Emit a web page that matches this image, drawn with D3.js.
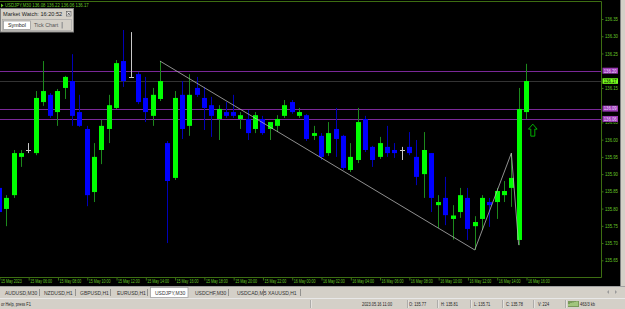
<!DOCTYPE html>
<html>
<head>
<meta charset="utf-8">
<script src="https://cdn.jsdelivr.net/npm/d3@7"></script>
<style>
  body { margin: 0; background: #000; overflow: hidden; }
  svg { display: block; }
</style>
</head>
<body>
<div id="chart"></div>
<script>
// USDJPY M30 bars, first bar 15 May 2023 04:00, one bar per 30 minutes
var symbol = "USDJPY,M30";
var firstBar = "2023-05-15 04:00";
var opens = [135.860, 135.799, 135.839, 135.950, 135.970, 135.961, 136.109, 136.130, 136.080, 136.150,
  136.170, 136.080, 136.031, 135.848, 135.970, 136.031, 136.092, 136.228, 136.182, 136.190,
  136.121, 136.069, 136.118, 135.990, 135.889, 136.130, 136.040, 136.150, 136.121, 136.100,
  136.060, 136.080, 136.080, 136.060, 136.060, 136.031, 136.060, 136.031, 136.040, 136.069,
  136.109, 136.069, 136.071, 136.011, 136.011, 135.961, 136.031, 136.011, 135.912, 135.941,
  136.060, 135.979, 135.950, 135.979, 135.970, 135.970, 135.979, 135.950, 135.900, 135.961,
  135.810, 135.831, 135.770, 135.790, 135.831, 135.749, 135.770, 135.819, 135.819, 135.839,
  135.860, 135.709, 136.080];
var highs = [135.866, 135.839, 135.970, 135.970, 135.990, 136.141, 136.228, 136.135, 136.147, 136.185,
  136.248, 136.130, 136.040, 135.990, 136.057, 136.130, 136.231, 136.318, 136.312, 136.196,
  136.182, 136.150, 136.228, 135.996, 136.141, 136.170, 136.190, 136.182, 136.153, 136.124,
  136.100, 136.109, 136.130, 136.080, 136.086, 136.080, 136.069, 136.051, 136.071, 136.115,
  136.115, 136.092, 136.074, 136.040, 136.019, 136.051, 136.092, 136.014, 135.990, 136.092,
  136.069, 135.982, 136.008, 136.040, 135.990, 135.979, 136.022, 135.999, 136.022, 135.961,
  135.839, 135.892, 135.810, 135.860, 135.860, 135.778, 135.839, 135.831, 135.860, 135.880,
  135.961, 136.150, 136.220];
var lows = [135.784, 135.749, 135.831, 135.921, 135.961, 135.955, 136.098, 136.063, 136.040, 136.118,
  136.040, 136.037, 135.807, 135.819, 135.929, 135.990, 136.089, 136.153, 136.182, 136.103,
  136.051, 136.040, 136.112, 135.700, 135.883, 136.002, 136.011, 136.124, 136.028, 136.008,
  135.999, 136.063, 136.063, 136.031, 135.999, 136.019, 136.014, 135.999, 136.022, 136.063,
  136.075, 136.063, 135.996, 135.999, 135.941, 135.953, 135.950, 135.912, 135.906, 135.932,
  135.964, 135.921, 135.944, 135.950, 135.947, 135.941, 135.955, 135.868, 135.831, 135.790,
  135.744, 135.752, 135.710, 135.773, 135.709, 135.680, 135.738, 135.747, 135.770, 135.819,
  135.805, 135.694, 136.060];
var closes = [135.790, 135.831, 135.961, 135.961, 135.970, 136.121, 136.141, 136.069, 136.141, 136.182,
  136.069, 136.040, 135.839, 135.950, 136.040, 136.100, 136.222, 136.170, 136.182, 136.109,
  136.080, 136.130, 136.170, 135.880, 136.121, 136.031, 136.130, 136.130, 136.092, 136.069,
  136.089, 136.069, 136.069, 136.071, 136.019, 136.071, 136.019, 136.051, 136.060, 136.100,
  136.080, 136.080, 136.002, 136.019, 135.950, 136.019, 136.002, 135.918, 135.950, 136.051,
  135.970, 135.941, 135.990, 135.961, 135.961, 135.970, 135.961, 135.892, 135.970, 135.831,
  135.819, 135.781, 135.780, 135.839, 135.741, 135.761, 135.831, 135.810, 135.851, 135.851,
  135.889, 136.089, 136.170];

var priceTicks = [135.65, 135.70, 135.75, 135.80, 135.85, 135.90, 135.95, 136.00,
  136.05, 136.15, 136.25, 136.30, 136.35];
var tickTimes = ["2023-05-15 04:00", "2023-05-15 06:00", "2023-05-15 08:00", "2023-05-15 10:00",
  "2023-05-15 12:00", "2023-05-15 14:00", "2023-05-15 16:00", "2023-05-15 18:00", "2023-05-15 20:00",
  "2023-05-15 22:00", "2023-05-16 00:00", "2023-05-16 02:00", "2023-05-16 04:00", "2023-05-16 06:00",
  "2023-05-16 08:00", "2023-05-16 10:00", "2023-05-16 12:00", "2023-05-16 14:00", "2023-05-16 16:00"];
var tickLabels = ["15 May 2023", "15 May 06:00", "15 May 08:00", "15 May 10:00", "15 May 12:00",
  "15 May 14:00", "15 May 16:00", "15 May 18:00", "15 May 20:00", "15 May 22:00", "16 May 00:00",
  "16 May 02:00", "16 May 04:00", "16 May 06:00", "16 May 08:00", "16 May 10:00", "16 May 12:00",
  "16 May 14:00", "16 May 16:00"];

var levelLines = [136.20, 136.09, 136.06];
var bidPrice = 136.17;
var zigzagBars = [22, 65, 70, 71];
var zigzagPrices = [136.228, 135.680, 135.961, 135.694];
var arrowBar = 72;
var arrowPrice = 136.045;
var cursorBar = 62;
var cursorVolume = 224;

var symbolTabs = ["AUDUSD,M30", "NZDUSD,H1", "GBPUSD,H1", "EURUSD,H1", "USDJPY,M30", "USDCHF,M30", "USDCAD,M5", "XAUUSD,H1"];
var tabX = [5, 44, 80, 117, 155, 195, 237, 268];
var tabSep = [39.5, 75.5, 110.5, 147.5, 228.5, 263.5, 300.5];

var W = 625, H = 309;
var chartRight = 601.5, chartTop = 1.5, chartBottom = 277.5;
var font = "'Liberation Sans', Arial, sans-serif";
var fg = "#66c626", frameCol = "#3d6e12";

// squeeze text horizontally, the terminal font is narrower than Arial
function squeeze(sel, k) {
  sel.each(function() {
    var w = this.getComputedTextLength();
    d3.select(this).attr('textLength', w * k).attr('lengthAdjust', 'spacingAndGlyphs');
  });
}

var parse = d3.timeParse("%Y-%m-%d %H:%M");
var t0 = parse(firstBar);
var bars = opens.map(function(o, i) {
  return {t: d3.timeMinute.offset(t0, 30 * i), o: o, h: highs[i], l: lows[i], c: closes[i]};
});

var x = d3.scaleTime()
  .domain([t0, bars[bars.length - 1].t])
  .range([-1.1, 526]);
var y = d3.scaleLinear()
  .domain([135.65, 136.35])
  .range([260.3, 19]);

var svg = d3.select('#chart').append('svg')
  .attr('width', W)
  .attr('height', H);

// black chart window + right edge of window
svg.append('rect').attr('x', 0).attr('y', 0).attr('width', 620).attr('height', 286).attr('fill', '#000');
svg.append('rect').attr('x', 620).attr('y', 0).attr('width', 5).attr('height', 286).attr('fill', '#d4d0c8');
svg.append('line').attr('x1', 620.5).attr('x2', 620.5).attr('y1', 0).attr('y2', 286).attr('stroke', '#808080');

var plot = svg.append('g');

// horizontal level lines
plot.selectAll('.level')
  .data(levelLines)
  .enter()
  .append('line')
  .attr('x1', 0).attr('x2', chartRight)
  .attr('y1', function(d) { return Math.round(y(d)) + 0.5; })
  .attr('y2', function(d) { return Math.round(y(d)) + 0.5; })
  .attr('stroke', '#7a2898')
  .attr('stroke-width', 1);

// bid line
plot.append('line')
  .attr('x1', 0).attr('x2', chartRight)
  .attr('y1', Math.round(y(bidPrice)) + 0.5)
  .attr('y2', Math.round(y(bidPrice)) + 0.5)
  .attr('stroke', '#333333');

// candles
var candles = plot.selectAll('.candle')
  .data(bars)
  .enter()
  .append('g');

candles.append('line')
  .attr('x1', function(d) { return Math.round(x(d.t)) + 0.5; })
  .attr('x2', function(d) { return Math.round(x(d.t)) + 0.5; })
  .attr('y1', function(d) { return y(d.h); })
  .attr('y2', function(d) { return y(d.l); })
  .attr('stroke', function(d) {
    if (d.c > d.o) return '#1c8a1c';
    if (d.c < d.o) return '#0000b8';
    return '#c8c8c8';
  })
  .attr('stroke-width', 1);

candles.filter(function(d) { return d.c != d.o; })
  .append('rect')
  .attr('x', function(d) { return Math.round(x(d.t)) - 2; })
  .attr('width', 5)
  .attr('y', function(d) { return y(Math.max(d.o, d.c)); })
  .attr('height', function(d) { return Math.max(1, Math.abs(y(d.o) - y(d.c))); })
  .attr('fill', function(d) { return d.c > d.o ? '#00ff00' : '#0000ff'; });

candles.filter(function(d) { return d.c == d.o; })
  .append('line')
  .attr('x1', function(d) { return Math.round(x(d.t)) - 2; })
  .attr('x2', function(d) { return Math.round(x(d.t)) + 3; })
  .attr('y1', function(d) { return Math.round(y(d.o)) + 0.5; })
  .attr('y2', function(d) { return Math.round(y(d.o)) + 0.5; })
  .attr('stroke', '#c8c8c8');

// zigzag
var zz = zigzagBars.map(function(b, i) { return [x(bars[b].t), y(zigzagPrices[i])]; });
plot.append('path')
  .attr('d', d3.line()(zz))
  .attr('fill', 'none')
  .attr('stroke', '#b4b4b4')
  .attr('stroke-width', 0.8);

// up arrow object
var ax = x(bars[arrowBar].t) + 6.8, ay = y(arrowPrice);
plot.append('path')
  .attr('d', 'M0,0 L4.3,5 L2,5 L2,12 L-2,12 L-2,5 L-4.3,5 Z')
  .attr('transform', 'translate(' + ax + ',' + ay + ')')
  .attr('fill', 'none')
  .attr('stroke', '#00c000')
  .attr('stroke-width', 0.9);

// frame
svg.append('path')
  .attr('d', 'M0,' + chartTop + ' H' + chartRight + ' V' + chartBottom + ' H0')
  .attr('fill', 'none')
  .attr('stroke', frameCol)
  .attr('stroke-width', 1);

// price axis
var yAxis = svg.append('g')
  .attr('transform', 'translate(' + chartRight + ',0)')
  .call(d3.axisRight(y).tickValues(priceTicks).tickFormat(d3.format('.2f')).tickSize(2).tickPadding(1.5));
yAxis.select('.domain').remove();
yAxis.selectAll('line').attr('stroke', frameCol);
yAxis.selectAll('text')
  .attr('fill', fg)
  .style('font-family', font)
  .style('font-size', '4.8px')
  .call(squeeze, 0.88);

// level labels on the price axis
var lab = svg.selectAll('.lvlLab')
  .data(levelLines)
  .enter()
  .append('g')
  .attr('transform', function(d) { return 'translate(602.5,' + y(d) + ')'; });
lab.append('rect').attr('x', 0).attr('y', -3).attr('width', 15.5).attr('height', 6).attr('fill', '#9a3cb4');
lab.append('text').attr('x', 1.2).attr('y', 1.8)
  .text(function(d) { return d.toFixed(2); })
  .attr('fill', '#f0d8ff')
  .style('font-family', font).style('font-size', '4.8px')
  .call(squeeze, 0.88);

var bidLab = svg.append('g').attr('transform', 'translate(602.5,' + y(bidPrice) + ')');
bidLab.append('rect').attr('x', 0).attr('y', -2.8).attr('width', 15.5).attr('height', 5.6).attr('fill', '#78ff1e');
bidLab.append('text').attr('x', 1.2).attr('y', 1.8).text(bidPrice.toFixed(2))
  .attr('fill', '#000').style('font-family', font).style('font-size', '4.8px')
  .call(squeeze, 0.88);

// time axis
var xAxis = svg.append('g')
  .attr('transform', 'translate(0,' + chartBottom + ')')
  .call(d3.axisBottom(x)
    .tickValues(tickTimes.map(function(s) { return parse(s); }))
    .tickFormat(function(d, i) { return tickLabels[i]; })
    .tickSize(3));
xAxis.select('.domain').remove();
xAxis.selectAll('line').attr('stroke', frameCol).attr('transform', 'translate(0.5,0)');
xAxis.selectAll('text')
  .attr('fill', fg)
  .attr('text-anchor', 'start')
  .attr('x', 1.5)
  .attr('y', 2)
  .attr('dy', '0.71em')
  .style('font-family', font)
  .style('font-size', '4.8px')
  .call(squeeze, 0.75);

// chart title
var last = bars[bars.length - 1];
svg.append('path').attr('d', 'M1,3.5 L3.5,5.5 L1,7.5 Z').attr('fill', fg);
svg.append('text')
  .attr('x', 5).attr('y', 7.2)
  .text(symbol + ' ' + [last.o, last.h, last.l, last.c].map(function(v) { return v.toFixed(2); }).join(' '))
  .attr('fill', fg)
  .style('font-family', font).style('font-size', '4.8px')
  .call(squeeze, 0.9);

// market watch window
var mw = svg.append('g');
mw.append('rect').attr('x', 0.5).attr('y', 8.5).attr('width', 73).attr('height', 23.5)
  .attr('fill', '#d4d0c8').attr('stroke', '#808080');
mw.append('text').attr('x', 3).attr('y', 15.6).text('Market Watch: 16:20:52')
  .attr('fill', '#222').style('font-family', font).style('font-size', '5.6px');
mw.append('rect').attr('x', 66.5).attr('y', 11.5).attr('width', 4.5).attr('height', 4.5)
  .attr('fill', '#e8e8e8').attr('stroke', '#555').attr('stroke-width', 0.6);
mw.append('path').attr('d', 'M67.6,12.6 L69.9,14.9 M69.9,12.6 L67.6,14.9').attr('stroke', '#222').attr('stroke-width', 0.6);
mw.append('rect').attr('x', 2.5).attr('y', 19.5).attr('width', 69).attr('height', 11)
  .attr('fill', '#d4d0c8').attr('stroke', '#a0a0a0').attr('stroke-width', 0.6);
mw.append('rect').attr('x', 3.5).attr('y', 21).attr('width', 27).attr('height', 8.5)
  .attr('fill', '#fff').attr('stroke', '#808080').attr('stroke-width', 0.6);
mw.append('text').attr('x', 8).attr('y', 27.3).text('Symbol')
  .attr('fill', '#222').style('font-family', font).style('font-size', '5.4px');
mw.append('text').attr('x', 34).attr('y', 27.3).text('Tick Chart')
  .attr('fill', '#555').style('font-family', font).style('font-size', '5.4px');
mw.append('rect').attr('x', 61.5).attr('y', 22).attr('width', 1.4).attr('height', 6.5).attr('fill', '#999');

// symbol tabs bar
svg.append('rect').attr('x', 0).attr('y', 286).attr('width', W).attr('height', 12).attr('fill', '#d4d0c8');
svg.append('line').attr('x1', 0).attr('x2', W).attr('y1', 286.5).attr('y2', 286.5).attr('stroke', '#a0a0a0');
svg.append('rect').attr('x', 150.5).attr('y', 287.5).attr('width', 37.5).attr('height', 10)
  .attr('fill', '#fff').attr('stroke', '#9a9a9a').attr('stroke-width', 0.7);
svg.selectAll('.tab')
  .data(symbolTabs)
  .enter()
  .append('text')
  .attr('x', function(d, i) { return tabX[i]; })
  .attr('y', 294.5)
  .text(function(d) { return d; })
  .attr('fill', '#333')
  .style('font-family', font).style('font-size', '5px');
svg.selectAll('.tabsep')
  .data(tabSep)
  .enter()
  .append('line')
  .attr('x1', function(d) { return d; }).attr('x2', function(d) { return d; })
  .attr('y1', 289).attr('y2', 296)
  .attr('stroke', '#777').attr('stroke-width', 0.7);
svg.append('path').attr('d', 'M609,290 L607,292 L609,294 Z M615,290 L617,292 L615,294 Z').attr('fill', '#999');

// status bar
var cb = bars[cursorBar];
svg.append('rect').attr('x', 0).attr('y', 298).attr('width', W).attr('height', 11).attr('fill', '#d4d0c8');
svg.append('line').attr('x1', 0).attr('x2', W).attr('y1', 298.5).attr('y2', 298.5).attr('stroke', '#e8e8e8');
var statusTexts = [
  {x: 1, s: 'or Help, press F1'},
  {x: 362, s: d3.timeFormat('%Y.%m.%d %H:%M')(cb.t)},
  {x: 409, s: 'O: ' + cb.o.toFixed(2)},
  {x: 441, s: 'H: ' + cb.h.toFixed(2)},
  {x: 474, s: 'L: ' + cb.l.toFixed(2)},
  {x: 506, s: 'C: ' + cb.c.toFixed(2)},
  {x: 538, s: 'V: ' + cursorVolume},
  {x: 580, s: '463/3 kb'}
];
svg.selectAll('.st')
  .data(statusTexts)
  .enter()
  .append('text')
  .attr('x', function(d) { return d.x; })
  .attr('y', 305.6)
  .text(function(d) { return d.s; })
  .attr('fill', '#222')
  .style('font-family', font).style('font-size', '5px')
  .call(squeeze, 0.78);
[310.5, 407.5, 437.5, 470.5, 502.5, 533.5, 565.5].forEach(function(sx) {
  svg.append('line').attr('x1', sx).attr('x2', sx).attr('y1', 300).attr('y2', 308).attr('stroke', '#909090').attr('stroke-width', 0.7);
  svg.append('line').attr('x1', sx + 0.8).attr('x2', sx + 0.8).attr('y1', 300).attr('y2', 308).attr('stroke', '#fff').attr('stroke-width', 0.5);
});
// connection icon
svg.append('rect').attr('x', 568).attr('y', 301).attr('width', 11).attr('height', 6).attr('fill', '#7a9a5a');
svg.append('path').attr('d', 'M569,306 V304 M571,306 V303 M573,306 V302.5 M575,306 V302 M577,306 V301.5')
  .attr('stroke', '#c8f0a0').attr('stroke-width', 1);
</script>
</body>
</html>
